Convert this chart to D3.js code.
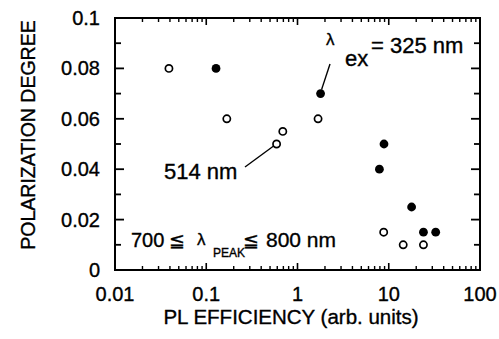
<!DOCTYPE html>
<html>
<head>
<meta charset="utf-8">
<script src="https://cdn.jsdelivr.net/npm/d3@7"></script>
<style>
  body { margin: 0; background: #fff; overflow: hidden; }
  #wrap { position: relative; width: 499px; height: 339px; }
  #wrap svg { position: absolute; left: 0; top: 0; display: block; }
  text { font-family: "Liberation Sans", Arial, sans-serif; fill: #000; stroke: #000; stroke-width: 0.35px; }
</style>
</head>
<body>
<div id="wrap">
  <svg id="chart" width="499" height="339"></svg>
  <svg id="box" width="499" height="339"></svg>
</div>
<script>
// Data: PL efficiency (log x) vs polarization degree.
const open514 = [
  [0.039, 0.080], [0.168, 0.060], [0.59, 0.050], [0.69, 0.055],
  [1.68, 0.060], [8.8, 0.015], [14.4, 0.010], [24, 0.010]
];
const filled325 = [
  [0.128, 0.080], [1.79, 0.070], [8.87, 0.050], [7.9, 0.040],
  [17.8, 0.025], [24, 0.015], [32.7, 0.015]
];
const xTickValues = [0.01, 0.1, 1, 10, 100];
const xTickLabels = ["0.01", "0.1", "1", "10", "100"];
const yTickValues = [0, 0.02, 0.04, 0.06, 0.08, 0.1];
const yTickLabels = ["0", "0.02", "0.04", "0.06", "0.08", "0.1"];
const yMinorValues = [0.01, 0.03, 0.05, 0.07, 0.09];

const svg = d3.select("#chart");
const box = d3.select("#box");
const m = { left: 115, right: 480, top: 18, bottom: 270 };

const x = d3.scaleLog().domain([0.01, 100]).range([m.left, m.right]);
const y = d3.scaleLinear().domain([0, 0.1]).range([m.bottom, m.top]);

// 2..9 in every decade
const xMinorValues = [];
for (let e = -2; e < 2; e++) for (let k = 2; k <= 9; k++) xMinorValues.push(k * Math.pow(10, e));

// tick labels
svg.selectAll("text.xl").data(xTickValues).join("text")
  .attr("class", "xl")
  .attr("x", d => x(d)).attr("y", 301)
  .attr("text-anchor", "middle").attr("font-size", 20)
  .text((d, i) => xTickLabels[i]);
svg.selectAll("text.yl").data(yTickValues).join("text")
  .attr("class", "yl")
  .attr("x", 100).attr("y", d => y(d) + 7)
  .attr("text-anchor", "end").attr("font-size", 20)
  .text((d, i) => yTickLabels[i]);

// axis titles
svg.append("text").attr("x", 291).attr("y", 324)
  .attr("text-anchor", "middle").attr("font-size", 20.5)
  .text("PL EFFICIENCY (arb. units)");
svg.append("text").attr("transform", "translate(35,135) rotate(-90)")
  .attr("text-anchor", "middle").attr("font-size", 19.5)
  .text("POLARIZATION  DEGREE");

// annotations
const note = (tx, ty, size, s, fam) => {
  const n = svg.append("text").attr("x", tx).attr("y", ty).attr("font-size", size).text(s);
  if (fam) n.style("font-family", fam);
  return n;
};
note(326, 45, 17, "λ");
note(345, 66, 22, "ex");
note(371, 53, 22, "= 325 nm");
note(164, 179, 22, "514 nm");

note(131, 247, 20, "700");
note(169, 247, 19, "≦", "DejaVu Sans");
note(197, 245, 17, "λ");
note(213, 257, 12, "PEAK");
note(243, 247, 19, "≦", "DejaVu Sans");
note(266, 247, 21, "800 nm");

// leader lines
svg.append("path")
  .attr("d", d3.line()([[330, 64], [x(1.79) + 1, y(0.070) - 4]]))
  .style("stroke", "#000").style("stroke-width", 1.4).style("fill", "none");
svg.append("path")
  .attr("d", d3.line()([[245, 167], [x(0.59) - 3, y(0.050) + 2]]))
  .style("stroke", "#000").style("stroke-width", 1.4).style("fill", "none");

// markers
svg.selectAll("circle.open").data(open514).join("circle")
  .attr("class", "open")
  .attr("cx", d => x(d[0])).attr("cy", d => y(d[1])).attr("r", 3.6)
  .style("fill", "#fff").style("stroke", "#000").style("stroke-width", 1.7);
svg.selectAll("circle.filled").data(filled325).join("circle")
  .attr("class", "filled")
  .attr("cx", d => x(d[0])).attr("cy", d => y(d[1])).attr("r", 4.4)
  .style("fill", "#000");

// frame and inward ticks in their own layer, as thin filled bars
const [x0, x1] = x.range(), [y0, y1] = y.range();
const bars = [];
bars.push([x0 - 1, y1 - 1, x1 - x0 + 2, 2]);   // top
bars.push([x0 - 1, y0 - 1, x1 - x0 + 2, 2]);   // bottom
bars.push([x0 - 1, y1 - 1, 2, y0 - y1 + 2]);   // left
bars.push([x1 - 1, y1 - 1, 2, y0 - y1 + 2]);   // right
xTickValues.forEach(v => {
  bars.push([x(v) - 0.8, y0 - 7, 1.6, 7]);
  bars.push([x(v) - 0.8, y1, 1.6, 7]);
});
xMinorValues.forEach(v => {
  bars.push([x(v) - 0.7, y0 - 4, 1.4, 4]);
  bars.push([x(v) - 0.7, y1, 1.4, 4]);
});
yTickValues.forEach(v => {
  bars.push([x0, y(v) - 0.9, 9, 1.8]);
  bars.push([x1 - 9, y(v) - 0.9, 9, 1.8]);
});
yMinorValues.forEach(v => {
  bars.push([x0, y(v) - 0.9, 6, 1.8]);
  bars.push([x1 - 6, y(v) - 0.9, 6, 1.8]);
});
box.selectAll("rect").data(bars).join("rect")
  .attr("x", d => d[0]).attr("y", d => d[1])
  .attr("width", d => d[2]).attr("height", d => d[3])
  .style("fill", "#000");
</script>
</body>
</html>
